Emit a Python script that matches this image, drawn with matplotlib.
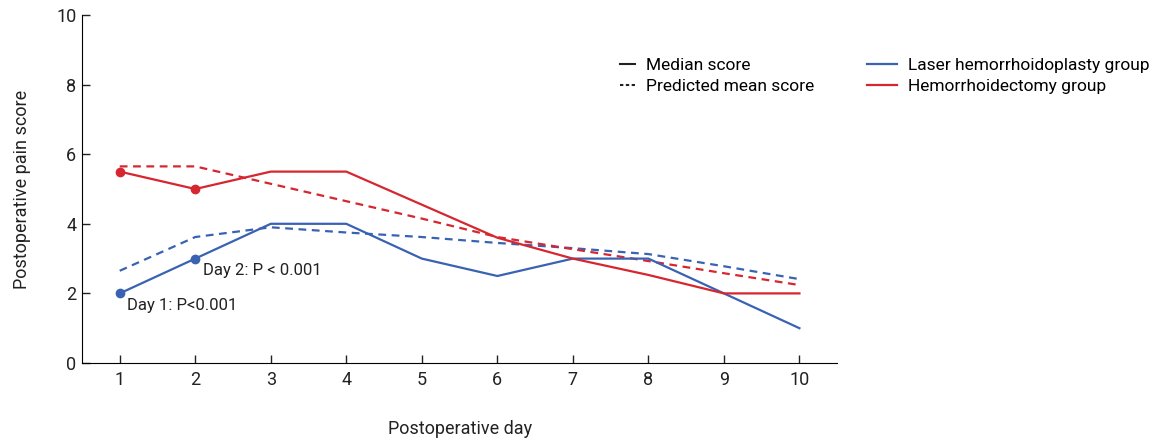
import matplotlib
matplotlib.use('Agg')
import matplotlib.pyplot as plt
from matplotlib.lines import Line2D

plt.rcParams['font.family'] = ['Roboto', 'DejaVu Sans']

# Data
days = [1, 2, 3, 4, 5, 6, 7, 8, 9, 10]
laser_median = [2, 3, 4, 4, 3, 2.5, 3, 3, 2, 1]
laser_pred = [2.65, 3.62, 3.9, 3.75, 3.62, 3.45, 3.3, 3.13, 2.78, 2.41]
hemo_median = [5.5, 5, 5.5, 5.5, 4.55, 3.6, 3, 2.53, 2, 2]
hemo_pred = [5.65, 5.65, 5.15, 4.65, 4.15, 3.62, 3.27, 2.93, 2.58, 2.24]

blue = '#3a62b3'
red = '#d62630'

fig = plt.figure(figsize=(11.66, 4.43), dpi=100)
ax = fig.add_axes([0.0703, 0.1806, 0.6477, 0.7855])

ax.plot(days, laser_pred, color=blue, lw=1.6, ls=(0, (3.5, 2.5)))
ax.plot(days, hemo_pred, color=red, lw=1.6, ls=(0, (3.5, 2.5)))
ax.plot(days, laser_median, color=blue, lw=1.6)
ax.plot(days, hemo_median, color=red, lw=1.6)
ax.plot(days[:2], laser_median[:2], 'o', color=blue, ms=6)
ax.plot(days[:2], hemo_median[:2], 'o', color=red, ms=6)

ax.text(2.1, laser_median[1] - 0.35, 'Day 2: P < 0.001', fontsize=12, color='#222222', va='center')
ax.text(1.1, laser_median[0] - 0.35, 'Day 1: P<0.001', fontsize=12, color='#222222', va='center')

ax.set_xlim(0.5, 10.5)
ax.set_ylim(0, 10)
ax.set_xticks(days)
ax.set_yticks([0, 2, 4, 6, 8, 10])
ax.spines['top'].set_visible(False)
ax.spines['right'].set_visible(False)
ax.tick_params(direction='in', length=6, width=1, labelsize=13, colors='#222222', pad=6)
ax.tick_params(axis='y', pad=4)
ax.set_xlabel('Postoperative day', fontsize=13, labelpad=22, color='#222222')
ax.set_ylabel('Postoperative pain score', fontsize=13, labelpad=18, color='#222222')

h1 = [Line2D([], [], color='#222222', lw=1.5),
      Line2D([], [], color='#222222', lw=1.5, ls=(0, (1.6, 1.2)))]
fig.legend(h1, ['Median score', 'Predicted mean score'], loc='upper left',
           bbox_to_anchor=(0.518, 0.905), frameon=False, fontsize=12.5,
           handlelength=0.9, handletextpad=0.6, labelspacing=0.35)
h2 = [Line2D([], [], color=blue, lw=1.6), Line2D([], [], color=red, lw=1.6)]
fig.legend(h2, ['Laser hemorrhoidoplasty group', 'Hemorrhoidectomy group'], loc='upper left',
           bbox_to_anchor=(0.73, 0.905), frameon=False, fontsize=12.5,
           handlelength=1.75, handletextpad=0.6, labelspacing=0.35)

fig.savefig('out.png', dpi=100)
